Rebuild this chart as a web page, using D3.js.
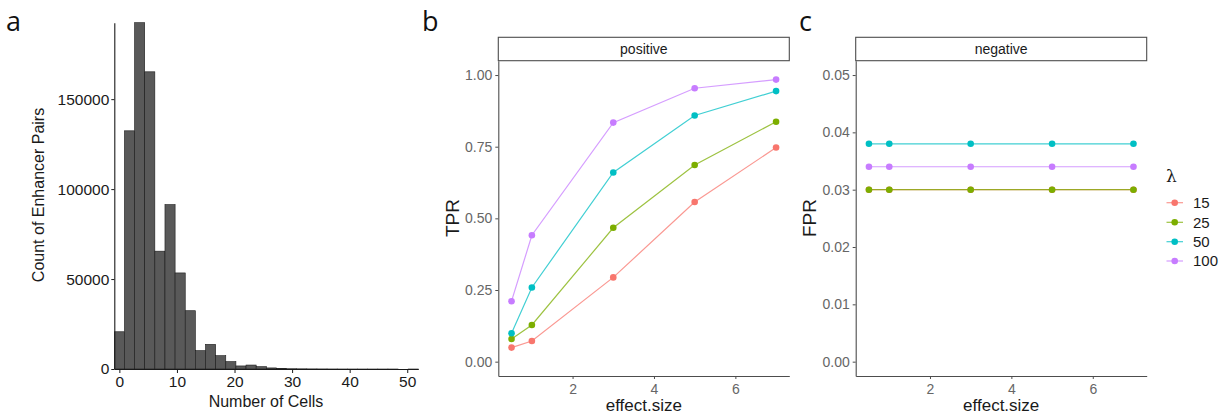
<!DOCTYPE html>
<html><head><meta charset="utf-8">
<script src="https://cdn.jsdelivr.net/npm/d3@7"></script>
<style>
body{margin:0;background:#fff;}
svg{display:block;}
text{font-family:"Liberation Sans",Arial,Helvetica,sans-serif;}
</style></head>
<body>
<svg id="chart" width="1225" height="415"></svg>
<script>
// ---- Panel a: histogram data ----
const binWidth = 1.76;
const histCounts = [20700,132400,192500,165200,65500,91400,53400,32400,10200,13700,7400,4100,1700,2200,1300,600,300,150,100,60,40,20,10,5,3,2,1,1,0,1];
const histXTicks = [0,10,20,30,40,50];
const histYTicks = [0,50000,100000,150000];

// ---- Panels b, c ----
const effectSize = [0.5,1,3,5,7];
const lambdas = ["15","25","50","100"];
const colors = ["#F8766D","#7CAE00","#00BFC4","#C77CFF"];
const tpr = {
  "15":[0.049,0.072,0.294,0.557,0.747],
  "25":[0.079,0.128,0.467,0.686,0.837],
  "50":[0.099,0.259,0.660,0.859,0.944],
  "100":[0.211,0.441,0.834,0.954,0.984]
};
const fpr = {
  "15":[0.030,0.030,0.030,0.030,0.030],
  "25":[0.030,0.030,0.030,0.030,0.030],
  "50":[0.038,0.038,0.038,0.038,0.038],
  "100":[0.034,0.034,0.034,0.034,0.034]
};
const tprTicks = [0,0.25,0.5,0.75,1];
const fprTicks = [0,0.01,0.02,0.03,0.04,0.05];
const effTicks = [2,4,6];

const svg = d3.select("#chart");
const letterFont = '"Open Sans","DejaVu Sans",sans-serif';

// ===== Panel a =====
{
  const x = d3.scaleLinear().domain([-binWidth/2, (histCounts.length-0.5)*binWidth]).range([114.3,418.3]);
  const y = d3.scaleLinear().domain([0, d3.max(histCounts)]).range([369,22.7]);
  const g = svg.append("g");
  g.selectAll("rect").data(histCounts).join("rect")
    .attr("x",(d,i)=>x(i*binWidth-binWidth/2))
    .attr("width",(d,i)=>x(binWidth)-x(0))
    .attr("y",d=>y(d))
    .attr("height",d=>y(0)-y(d))
    .attr("fill","#595959").attr("stroke","#1a1a1a").attr("stroke-width",0.6);
  const xa = g.append("g").attr("transform","translate(0,369)")
    .call(d3.axisBottom(x).tickValues(histXTicks).tickSize(4).tickSizeOuter(0).tickPadding(2));
  const ya = g.append("g").attr("transform","translate(114.3,0)")
    .call(d3.axisLeft(y).tickValues(histYTicks).tickSize(3).tickSizeOuter(0).tickPadding(2).tickFormat(d3.format("d")));
  [xa,ya].forEach(a=>{
    a.select(".domain").attr("stroke","#1a1a1a").attr("stroke-width",1.1);
    a.selectAll(".tick line").attr("stroke","#1a1a1a");
    a.selectAll(".tick text").attr("fill","#1a1a1a").style("font-size","15.5px");
  });
  xa.selectAll(".tick text").attr("dy","0.8em");
  g.append("text").attr("x",266).attr("y",407).attr("text-anchor","middle")
    .style("font-size","16px").attr("fill","#1a1a1a").text("Number of Cells");
  g.append("text").attr("transform","translate(44,195) rotate(-90)").attr("text-anchor","middle")
    .style("font-size","16px").attr("fill","#1a1a1a").text("Count of Enhancer Pairs");
  g.append("text").attr("x",6).attr("y",31).style("font-family",letterFont).style("font-size","27px").attr("fill","#111").text("a");
}

// ===== line panels =====
function linePanel(opts){
  const {left,right,letterX,letter,strip,ydomain,yticks,ylabel,data,yfmt} = opts;
  const top=60.7, bottom=376;
  const x = d3.scaleLinear().domain([0.175,7.325]).range([left,right]);
  const y = d3.scaleLinear().domain(ydomain).range([bottom,top]);
  const g = svg.append("g");
  // strip
  g.append("rect").attr("x",left).attr("y",37.3).attr("width",right-left).attr("height",top-37.3)
    .attr("fill","#fff").attr("stroke","#4d4d4d").attr("stroke-width",1.1);
  g.append("text").attr("x",(left+right)/2).attr("y",49).attr("dy","0.35em").attr("text-anchor","middle")
    .style("font-size","14px").attr("fill","#1a1a1a").text(strip);
  const xa = g.append("g").attr("transform",`translate(0,${bottom})`)
    .call(d3.axisBottom(x).tickValues(effTicks).tickSize(3).tickSizeOuter(0).tickPadding(3));
  const ya = g.append("g").attr("transform",`translate(${left},0)`)
    .call(d3.axisLeft(y).tickValues(yticks).tickSize(3).tickSizeOuter(0).tickPadding(3).tickFormat(d3.format(yfmt)));
  [xa,ya].forEach(a=>{
    a.select(".domain").attr("stroke","#4d4d4d").attr("stroke-width",1.1);
    a.selectAll(".tick line").attr("stroke","#4d4d4d");
    a.selectAll(".tick text").attr("fill","#666").style("font-size","14px");
  });
  xa.selectAll(".tick text").attr("dy","0.85em");
  const line = d3.line().x((d,i)=>x(effectSize[i])).y(d=>y(d));
  lambdas.forEach((l,k)=>{
    g.append("path").attr("d",line(data[l])).attr("fill","none")
      .attr("stroke",colors[k]).attr("stroke-width",1.2).attr("stroke-opacity",0.75);
    g.selectAll(null).data(data[l]).join("circle")
      .attr("cx",(d,i)=>x(effectSize[i])).attr("cy",d=>y(d)).attr("r",3.3).attr("fill",colors[k]);
  });
  g.append("text").attr("x",(left+right)/2).attr("y",411).attr("text-anchor","middle")
    .style("font-size","17px").attr("fill","#1a1a1a").text("effect.size");
  g.append("text").attr("transform",`translate(${left-46},218) rotate(-90)`).attr("text-anchor","middle")
    .attr("dy","0.35em").style("font-size","19px").attr("fill","#1a1a1a").text(ylabel);
  g.append("text").attr("x",letterX).attr("y",31).style("font-family",letterFont).style("font-size","27px").attr("fill","#111").text(letter);
}

linePanel({left:498.3,right:789.3,letterX:422,letter:"b",strip:"positive",ydomain:[-0.05,1.05],yticks:tprTicks,ylabel:"TPR",data:tpr,yfmt:".2f"});
linePanel({left:855.7,right:1146.7,letterX:799,letter:"c",strip:"negative",ydomain:[-0.0025,0.0525],yticks:fprTicks,ylabel:"FPR",data:fpr,yfmt:".2f"});

// ===== Legend =====
{
  const g = svg.append("g");
  g.append("text").attr("x",1166).attr("y",182).style("font-family",'"DejaVu Serif",serif').style("font-size","17px").attr("fill","#1a1a1a").text("λ");
  const ys = [202.7,222.3,241.7,261];
  lambdas.forEach((l,k)=>{
    g.append("line").attr("x1",1166.5).attr("x2",1183).attr("y1",ys[k]).attr("y2",ys[k])
      .attr("stroke",colors[k]).attr("stroke-width",1.2).attr("stroke-opacity",0.75);
    g.append("circle").attr("cx",1174.7).attr("cy",ys[k]).attr("r",3.3).attr("fill",colors[k]);
    g.append("text").attr("x",1193).attr("y",ys[k]).attr("dy","0.35em").style("font-size","15px").attr("fill","#1a1a1a").text(l);
  });
}
</script>
</body></html>
